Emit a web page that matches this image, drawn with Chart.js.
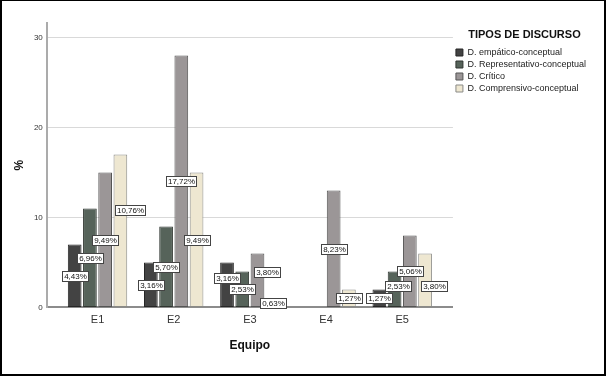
<!DOCTYPE html>
<html>
<head>
<meta charset="utf-8">
<script src="https://cdn.jsdelivr.net/npm/chart.js@4.4.1/dist/chart.umd.min.js"></script>
<style>
  body { margin: 0; background: #fff; }
  #wrap { position: relative; width: 606px; height: 376px; }
  #wrap canvas { display: block; }
  #frame { position: absolute; left: 0; top: 0; width: 606px; height: 376px; box-sizing: border-box;
           border-style: solid; border-color: #000; border-width: 1px 2px 2px 2px; pointer-events: none; }
</style>
</head>
<body>
<div id="wrap">
  <canvas id="discursoChart" width="606" height="376"></canvas>
  <div id="frame"></div>
</div>
<script>
// ===== data (counts drive bar height, labels show the % of the 158 total) =====
const equipos = ['E1', 'E2', 'E3', 'E4', 'E5'];
const empatico       = [7, 5, 5, 0, 2];
const representativo = [11, 9, 4, 0, 4];
const critico        = [15, 28, 6, 13, 8];
const comprensivo    = [17, 15, 1, 2, 6];

const pctEmpatico       = [4.43, 3.16, 3.16, null, 1.27];
const pctRepresentativo = [6.96, 5.70, 2.53, null, 2.53];
const pctCritico        = [9.49, 17.72, 3.80, 8.23, 5.06];
const pctComprensivo    = [10.76, 9.49, 0.63, 1.27, 3.80];

const yTicks = [0, 10, 20, 30];

// label boxes that were pushed aside to avoid overlaps (dataset,index -> [dx, dy])
const labelShift = { '3,0': [10, -21], '0,2': [0, -7], '2,2': [10, -8], '1,4': [3, -3], '3,4': [9, 6] };

const FONT = "'Liberation Sans', Arial, sans-serif";
Chart.defaults.font.family = FONT;
Chart.defaults.color = '#333';

const barLabels = {
  id: 'barLabels',
  afterDatasetsDraw(chart) {
    const ctx = chart.ctx;
    ctx.save();
    ctx.font = '8px ' + FONT;
    ctx.textAlign = 'center';
    ctx.textBaseline = 'middle';
    chart.data.datasets.forEach((ds, di) => {
      chart.getDatasetMeta(di).data.forEach((bar, i) => {
        const pct = ds.pct[i];
        if (pct == null) return;
        const txt = pct.toFixed(2).replace('.', ',') + '%';
        const s = labelShift[di + ',' + i] || [0, 0];
        const x = bar.x + s[0];
        const y = (bar.y + bar.base) / 2 + s[1];
        const w = Math.round(ctx.measureText(txt).width + 3);
        const h = 10;
        const left = Math.round(x - w / 2) + 0.5, top = Math.round(y - h / 2) + 0.5;
        ctx.fillStyle = '#fff';
        ctx.fillRect(left, top, w, h);
        ctx.strokeStyle = '#444';
        ctx.lineWidth = 1;
        ctx.strokeRect(left, top, w, h);
        ctx.fillStyle = '#111';
        ctx.fillText(txt, left + w / 2, top + h / 2 + 0.5);
      });
    });
    ctx.restore();
  }
};

new Chart(document.getElementById('discursoChart'), {
  type: 'bar',
  data: {
    labels: equipos.map((e, i) => i + 1),
    datasets: [
      { label: 'D. empático-conceptual', data: empatico, pct: pctEmpatico,
        backgroundColor: '#434343', borderColor: '#262626' },
      { label: 'D. Representativo-conceptual', data: representativo, pct: pctRepresentativo,
        backgroundColor: '#56635a', borderColor: '#2f3530' },
      { label: 'D. Crítico', data: critico, pct: pctCritico,
        backgroundColor: '#9b9697', borderColor: '#555' },
      { label: 'D. Comprensivo-conceptual', data: comprensivo, pct: pctComprensivo,
        backgroundColor: '#eee7d1', borderColor: '#8a8a86' }
    ]
  },
  options: {
    responsive: false,
    animation: false,
    datasets: { bar: { borderWidth: 1, borderSkipped: false, categoryPercentage: 0.8, barPercentage: 0.9 } },
    layout: { padding: { left: 8, top: 23, right: 10, bottom: 23 } },
    plugins: {
      tooltip: { enabled: false },
      legend: {
        position: 'right',
        align: 'start',
        title: { display: true, text: 'TIPOS DE DISCURSO', color: '#111',
                 font: { size: 11, weight: 'bold' }, padding: { top: 6.5, bottom: 2.3 } },
        labels: { boxWidth: 7, boxHeight: 7, padding: 3, color: '#222', font: { size: 9 } }
      }
    },
    scales: {
      x: {
        type: 'linear',
        offset: false,
        min: 0.334,
        max: 5.666,
        afterBuildTicks: s => { s.ticks = equipos.map((e, i) => ({ value: i + 1 })); },
        ticks: { callback: v => equipos[v - 1], padding: 6, color: '#333', font: { size: 11 }, autoSkip: false, maxRotation: 0 },
        grid: { display: false, drawTicks: false },
        border: { display: true, color: '#8c8c8c', width: 2 },
        title: { display: true, text: 'Equipo', color: '#111', font: { size: 12, weight: 'bold' }, padding: { top: 6, bottom: 0 } }
      },
      y: {
        min: 0,
        max: 31.6,
        afterBuildTicks: s => { s.ticks = yTicks.map(v => ({ value: v })); },
        ticks: { padding: 4, color: '#333', font: { size: 8 } },
        grid: { color: '#d9d9d9', lineWidth: 1, drawTicks: false },
        border: { display: true, color: '#ababab', width: 2 },
        title: { display: true, text: '%', color: '#111', font: { size: 12, weight: 'bold' }, padding: { top: 4, bottom: 3.5 } }
      }
    }
  },
  plugins: [barLabels]
});
</script>
</body>
</html>
